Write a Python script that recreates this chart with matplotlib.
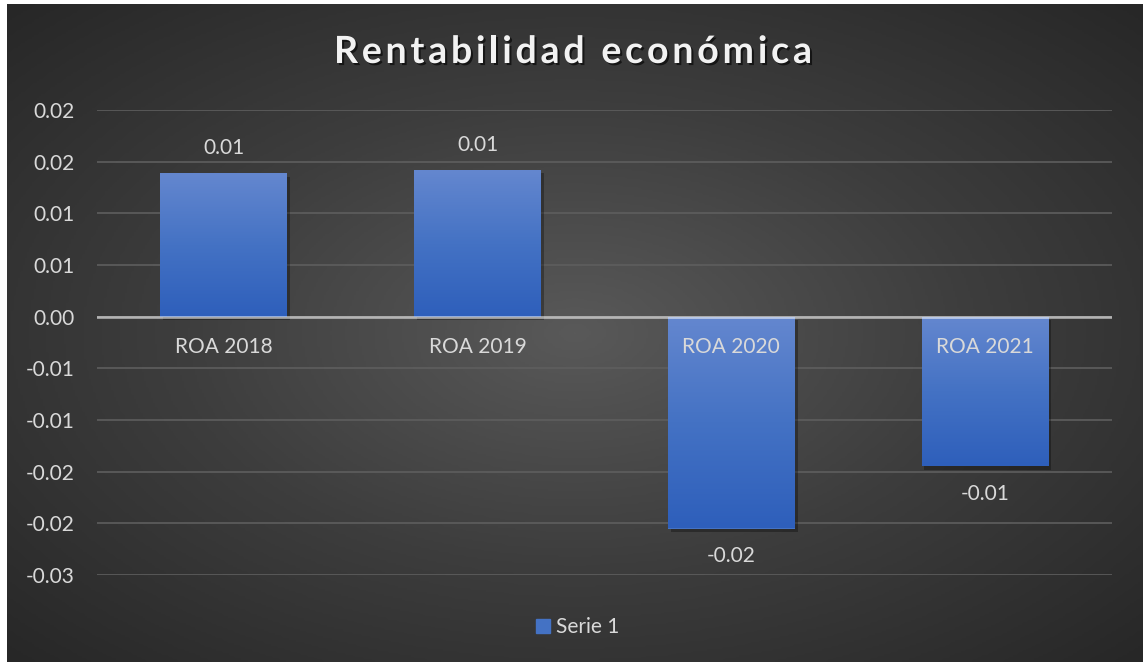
import numpy as np
import matplotlib as mpl
from matplotlib import pyplot as plt
import matplotlib.patheffects as pe
from matplotlib.colors import LinearSegmentedColormap
from matplotlib.font_manager import FontProperties
from matplotlib.patches import Patch

mpl.rcParams['font.family'] = ['Lato', 'DejaVu Sans']

# data
categories = ['ROA 2018', 'ROA 2019', 'ROA 2020', 'ROA 2021']
roa = [0.0139, 0.0142, -0.0205, -0.0145]
series_name = 'Serie 1'
title = 'Rentabilidad económica'
ytick_values = [-0.025, -0.02, -0.015, -0.01, -0.005, 0.0, 0.005, 0.01, 0.015, 0.02]
ytick_labels = ['-0.03', '-0.02', '-0.02', '-0.01', '-0.01', '0.00', '0.01', '0.01', '0.02', '0.02']

W, H = 1143, 662
txt_col = '#d9d9d9'
fsize = 15
fig = plt.figure(figsize=(W / 100, H / 100), dpi=100, facecolor='white')

# dark radial background, thin white strip top/left like the screenshot
bg = fig.add_axes([7 / W, 0, 1 - 7 / W, 1 - 4 / H])
bg.set_axis_off()
yy, xx = np.mgrid[-1:1:300j, -1:1:500j]
r = np.clip(np.sqrt(xx ** 2 + yy ** 2) / np.sqrt(2), 0, 1)
bg_cmap = LinearSegmentedColormap.from_list('bg', ['#595959', '#3d3d3d', '#272727'])
bg.imshow(r, cmap=bg_cmap, aspect='auto', extent=[0, 1, 0, 1], vmin=0, vmax=1)

ax = fig.add_axes([97 / W, 1 - 575 / H, (1112 - 97) / W, (575 - 110) / H])
ax.set_facecolor('none')
x = np.arange(len(categories))

bars = ax.bar(x, roa, width=0.5, color='#4472c4', zorder=2,
              path_effects=[pe.SimplePatchShadow(offset=(2, -2.5), shadow_rgbFace='black', alpha=0.3),
                            pe.Normal()])
# vertical gradient fill clipped to each bar
grad = np.linspace(0, 1, 256).reshape(-1, 1)
bar_cmap = LinearSegmentedColormap.from_list('bar', ['#6487cf', '#4472c4', '#2e5fbb'])
for b in bars:
    x0, w = b.get_x(), b.get_width()
    y0, y1 = sorted([b.get_y(), b.get_y() + b.get_height()])
    im = ax.imshow(grad, cmap=bar_cmap, aspect='auto', extent=[x0, x0 + w, y0, y1],
                   origin='upper', zorder=2.2)
    im.set_clip_path(b)

ax.set_xlim(-0.5, len(categories) - 0.5)
ax.set_ylim(-0.025, 0.02)
ax.set_yticks(ytick_values, ytick_labels)
ax.set_xticks([])
ax.tick_params(axis='y', length=0, pad=16, labelsize=fsize, labelcolor=txt_col)
for s in ax.spines.values():
    s.set_visible(False)
ax.set_axisbelow(True)
ax.grid(axis='y', color='#5e5e5e', linewidth=1.2)
ax.axhline(0, color='white', alpha=0.55, linewidth=2, zorder=3)

# value labels: a bit closer above positive bars than below negative ones
for b, v in zip(bars, roa):
    ax.annotate(f'{v:.2f}', (b.get_x() + b.get_width() / 2, v),
                xytext=(0, 18 if v > 0 else -20), textcoords='offset points',
                ha='center', va='center', fontsize=fsize, color=txt_col)
for xi, c in zip(x, categories):
    ax.annotate(c, (xi, 0), xytext=(0, -22), textcoords='offset points', ha='center',
                va='center', fontsize=fsize, color=txt_col, zorder=5)

# title with letter spacing (Excel style)
renderer = fig.canvas.get_renderer()
tprop = FontProperties(family=['Lato', 'DejaVu Sans'], weight='bold', size=27)


def text_w(s):
    return renderer.get_text_width_height_descent(s, tprop, ismath=False)[0]


widths = [(text_w('a a') - text_w('aa')) if ch == ' ' else text_w(ch) for ch in title]
target = 478.0
spacing = (target - sum(widths)) / (len(title) - 1)
xpos = 573 - target / 2
shadow = [pe.withSimplePatchShadow(offset=(1.5, -1.5), shadow_rgbFace='black', alpha=0.6)]
for ch, cw in zip(title, widths):
    if ch != ' ':
        fig.text(xpos / W, 1 - 63 / H, ch, fontproperties=tprop, color='#f2f2f2',
                 ha='left', va='baseline', path_effects=shadow)
    xpos += cw + spacing

fig.legend([Patch(color='#4472c4')], [series_name], loc='center',
           bbox_to_anchor=(578 / W, 1 - 627 / H), frameon=False, fontsize=fsize,
           labelcolor=txt_col, handlelength=0.65, handleheight=0.65, handletextpad=0.3)

fig.savefig('out.png', dpi=100)
